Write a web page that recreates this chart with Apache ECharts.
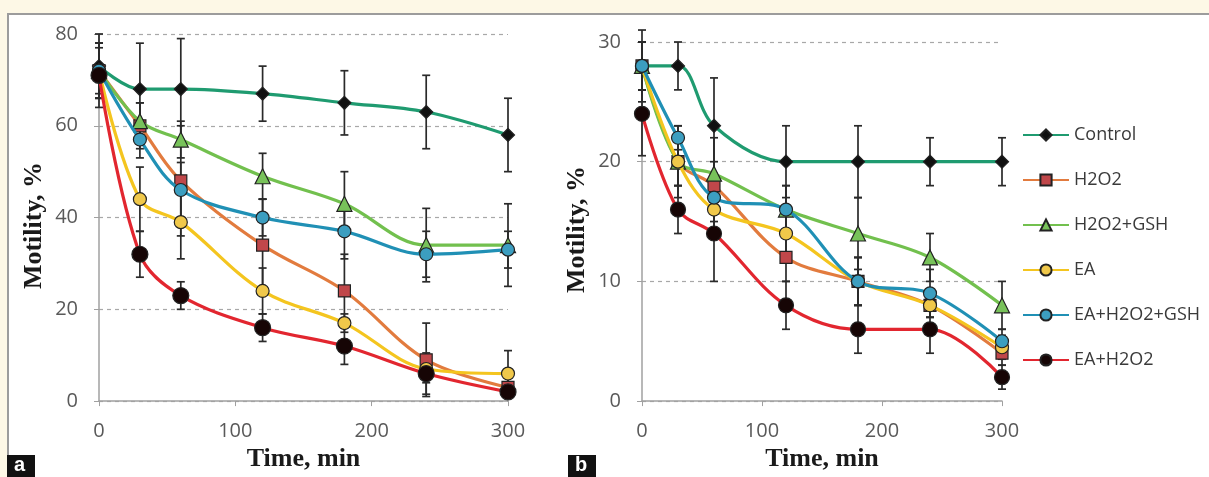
<!DOCTYPE html>
<html>
<head>
<meta charset="utf-8">
<script src="https://cdn.jsdelivr.net/npm/echarts@6/dist/echarts.min.js"></script>
<style>
  html, body { margin: 0; padding: 0; background: #fdf8e6; width: 1209px; height: 477px; overflow: hidden; }
  #frame { position: absolute; left: 7px; top: 13px; width: 1202px; height: 464px; background: #ffffff;
           border-left: 2px solid #9c9c9c; border-top: 2px solid #9c9c9c; box-sizing: border-box; }
  #chart { position: absolute; left: 0; top: 0; width: 1209px; height: 477px; }
</style>
</head>
<body>
<div id="frame"></div>
<div id="chart"></div>
<script>
// ---------- data ----------
const times = [0, 30, 60, 120, 180, 240, 300];
const seriesNames = ['Control', 'H2O2', 'H2O2+GSH', 'EA', 'EA+H2O2+GSH', 'EA+H2O2'];
const xTicksA = [0, 100, 200, 300];
const yTicksA = [0, 20, 40, 60, 80];
const yTicksB = [0, 10, 20, 30];

// Panel a (motility %)
const aControl   = [73, 68, 68, 67, 65, 63, 58];
const aH2O2      = [72, 60, 48, 34, 24, 9, 3];
const aH2O2GSH   = [72, 61, 57, 49, 43, 34, 34];
const aEA        = [72, 44, 39, 24, 17, 7, 6];
const aEAH2O2GSH = [72, 57, 46, 40, 37, 32, 33];
const aEAH2O2    = [71, 32, 23, 16, 12, 6, 2];
// Panel a error (±)
const aControlErr   = [7, 10, 11, 6, 7, 8, 8];
const aH2O2Err      = [5, 5, 12, 10, 8, 8, 2];
const aH2O2GSHErr   = [6, 4, 4, 5, 7, 8, 9];
const aEAErr        = [6, 7, 8, 5, 2, 3, 5];
const aEAH2O2GSHErr = [6, 4, 6, 4, 6, 5, 4];
const aEAH2O2Err    = [7, 5, 3, 3, 4, 4.5, 1];

// Panel b (motility %)
const bControl   = [28, 28, 23, 20, 20, 20, 20];
const bH2O2      = [28, 20, 18, 12, 10, 8, 4];
const bH2O2GSH   = [28, 20, 19, 16, 14, 12, 8];
const bEA        = [28, 20, 16, 14, 10, 8, 4.5];
const bEAH2O2GSH = [28, 22, 17, 16, 10, 9, 5];
const bEAH2O2    = [24, 16, 14, 8, 6, 6, 2];
// Panel b error (±)
const bControlErr   = [2, 2, 4, 3, 3, 2, 2];
const bH2O2Err      = [3, 3, 2, 2, 2, 1, 1];
const bH2O2GSHErr   = [2, 2, 3, 2, 3, 2, 2];
const bEAErr        = [2, 2, 2, 2, 2, 1, 1];
const bEAH2O2GSHErr = [2, 1, 2, 2, 2, 2, 1];
const bEAH2O2Err    = [3.5, 2, 4, 2, 2, 2, 1];

const panelA = [aControl, aH2O2, aH2O2GSH, aEA, aEAH2O2GSH, aEAH2O2];
const panelAErr = [aControlErr, aH2O2Err, aH2O2GSHErr, aEAErr, aEAH2O2GSHErr, aEAH2O2Err];
const panelB = [bControl, bH2O2, bH2O2GSH, bEA, bEAH2O2GSH, bEAH2O2];
const panelBErr = [bControlErr, bH2O2Err, bH2O2GSHErr, bEAErr, bEAH2O2GSHErr, bEAH2O2Err];

// ---------- styles ----------
const lineColors = ['#1f9b70', '#e27b3e', '#72c04e', '#f4c51f', '#2090b5', '#e2262f'];
const symColors  = ['#111111', '#c0474a', '#78c25a', '#f0c84a', '#3c9ec0', '#160505'];
const symbols    = ['diamond', 'rect', 'triangle', 'circle', 'circle', 'circle'];
const symSizes   = [13, 12, 15, 13, 13, 16];

const tickFont = { fontFamily: 'Open Sans', fontSize: 20, color: '#595959' };
const titleFont = { fontFamily: 'Liberation Serif', fontSize: 26, fontWeight: 'bold', color: '#1a1a1a' };

function xAxis(gridIndex) {
  return {
    type: 'value', gridIndex, min: 0, max: 300, interval: 100,
    name: 'Time, min', nameLocation: 'middle', nameGap: 36, nameTextStyle: titleFont,
    axisLine: { show: true, lineStyle: { color: '#a0a0a0', width: 1.5 } },
    axisTick: { show: true, length: 5, lineStyle: { color: '#a0a0a0' } },
    axisLabel: Object.assign({ margin: 20 }, tickFont),
    splitLine: { show: false }
  };
}
function yAxis(gridIndex, max, interval) {
  return {
    type: 'value', gridIndex, min: 0, max, interval,
    name: 'Motility, %', nameLocation: 'middle', nameGap: 52,
    nameTextStyle: Object.assign({ padding: [0, 16, 0, 0] }, titleFont),
    axisLine: { show: true, lineStyle: { color: '#a0a0a0', width: 1.5 } },
    axisTick: { show: true, length: 5, lineStyle: { color: '#a0a0a0' } },
    axisLabel: Object.assign({ margin: 21 }, tickFont),
    splitLine: { show: true, lineStyle: { color: '#a8a8a8', type: [4, 4], width: 1.2 } }
  };
}

function errSeries(panelIdx, vals, errs, name) {
  return {
    type: 'custom', name: 'err-' + panelIdx + '-' + name,
    xAxisIndex: panelIdx, yAxisIndex: panelIdx, z: 2, silent: true,
    data: times.map((t, k) => [t, vals[k] - errs[k], vals[k] + errs[k]]),
    encode: { x: 0, y: [1, 2] },
    renderItem: function (params, api) {
      const lo = api.coord([api.value(0), api.value(1)]);
      const hi = api.coord([api.value(0), api.value(2)]);
      const w = 4;
      const st = { stroke: '#2a2a2a', lineWidth: 1.7 };
      return {
        type: 'group',
        children: [
          { type: 'line', shape: { x1: lo[0], y1: lo[1], x2: hi[0], y2: hi[1] }, style: st },
          { type: 'line', shape: { x1: lo[0] - w, y1: lo[1], x2: lo[0] + w, y2: lo[1] }, style: st },
          { type: 'line', shape: { x1: hi[0] - w, y1: hi[1], x2: hi[0] + w, y2: hi[1] }, style: st }
        ]
      };
    }
  };
}

function lineSeries(panelIdx, i, vals, sizeAdj) {
  return {
    type: 'line', name: seriesNames[i], xAxisIndex: panelIdx, yAxisIndex: panelIdx,
    data: times.map((t, k) => [t, vals[k]]),
    smooth: 0.35, clip: false, z: 3 + i * 0.1,
    symbol: symbols[i], symbolSize: symSizes[i] + (sizeAdj || 0),
    showAllSymbol: true,
    lineStyle: { color: lineColors[i], width: 3.2 },
    itemStyle: { color: symColors[i], borderColor: '#222', borderWidth: 1.2 },
    emphasis: { disabled: true }
  };
}

const series = [];
panelA.forEach((v, i) => series.push(errSeries(0, v, panelAErr[i], seriesNames[i])));
panelB.forEach((v, i) => series.push(errSeries(1, v, panelBErr[i], seriesNames[i])));
panelA.forEach((v, i) => series.push(lineSeries(0, i, v, 0)));
panelB.forEach((v, i) => series.push(lineSeries(1, i, v, i === 5 ? -1 : 0)));

const chart = echarts.init(document.getElementById('chart'), null, { renderer: 'canvas' });
chart.setOption({
  backgroundColor: 'transparent',
  animation: false,
  grid: [
    { left: 99, top: 34, width: 409, height: 371 },
    { left: 642, top: 42, width: 360, height: 363 }
  ],
  xAxis: [xAxis(0), xAxis(1)],
  yAxis: [yAxis(0, 80, 20), yAxis(1, 30, 10)],
  legend: {
    data: seriesNames,
    orient: 'vertical', left: 1017, top: 121,
    itemWidth: 46, itemHeight: 14, itemGap: 27,
    textStyle: { fontFamily: 'Open Sans', fontSize: 18, color: '#3a3a3a' },
    selectedMode: false
  },
  graphic: [
    { type: 'rect', left: 7, top: 455, shape: { width: 28, height: 22 }, style: { fill: '#111' } },
    { type: 'text', left: 14, top: 455, style: { text: 'a', fill: '#fff', font: 'bold 20px "Liberation Sans"' } },
    { type: 'rect', left: 568, top: 455, shape: { width: 28, height: 22 }, style: { fill: '#111' } },
    { type: 'text', left: 575, top: 455, style: { text: 'b', fill: '#fff', font: 'bold 20px "Liberation Sans"' } }
  ],
  series
});
</script>
</body>
</html>
